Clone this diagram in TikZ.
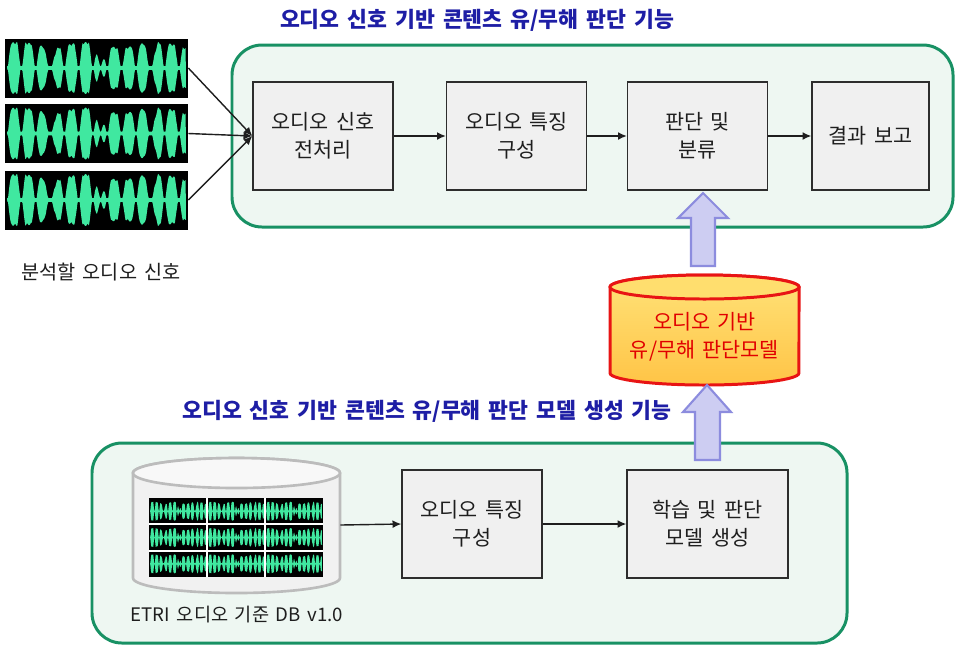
\documentclass[tikz,border=0pt]{standalone}
\usepackage{fontspec}
\setmainfont{Noto Sans CJK KR}[WordSpace=1.6]
\usetikzlibrary{arrows.meta,calc}

\definecolor{panelfill}{RGB}{238,247,242}
\definecolor{panelline}{RGB}{24,145,100}
\definecolor{boxfill}{RGB}{240,240,240}
\definecolor{boxline}{RGB}{45,45,45}
\definecolor{wavegreen}{RGB}{64,232,160}
\definecolor{titleblue}{RGB}{30,30,165}
\definecolor{fatfill}{RGB}{205,205,242}
\definecolor{fatline}{RGB}{140,140,222}
\definecolor{cylA}{RGB}{255,226,120}
\definecolor{cylB}{RGB}{255,196,70}
\definecolor{cyltop}{RGB}{255,222,110}
\definecolor{cylline}{RGB}{232,20,20}
\definecolor{modelred}{RGB}{225,0,0}
\definecolor{dbfill}{RGB}{241,241,241}
\definecolor{dbtop}{RGB}{248,248,248}
\definecolor{dbline}{RGB}{188,188,188}
\definecolor{textdark}{RGB}{30,30,30}

% green audio waveform: #1 left x, #2 middle y, #3 width, #4 height (pixels)
\newcommand\wavedraw[4]{%
  \fill[wavegreen]
    plot[domain=0:1,samples=320,variable=\t] ({#1+#3*\t},{#2-0.5*#4*wenv(\t)})
    -- plot[domain=1:0,samples=320,variable=\t] ({#1+#3*\t},{#2+0.5*#4*wenv(\t)})
    -- cycle;}

\begin{document}
\begin{tikzpicture}[
  x=0.02cm, y=-0.02cm,
  declare function={
    wenv(\t)=max(0.07, min(1,1.7*max(0,abs(sin(2250*\t))-0.18))
      *min(1,2.4*abs(sin(640*\t+25)))
      *(0.72+0.28*abs(sin(470*\t+60)))*(0.9+0.1*abs(sin(8000*\t))));
  },
  panel/.style={draw=panelline, line width=1.7pt, fill=panelfill, rounded corners=0.6cm},
  stepbox/.style={draw=boxline, line width=0.8pt, fill=boxfill, align=center,
    minimum width=2.8cm, minimum height=2.16cm, inner sep=0pt, text=textdark,
    font=\fontsize{11.8}{15.8}\selectfont},
  wavebox/.style={fill=black, minimum width=3.66cm, minimum height=1.18cm, inner sep=0pt},
  flow/.style={draw=textdark, line width=0.8pt, -{Latex[length=5pt,width=4.5pt]}},
  fat/.style={draw=fatline, fill=fatfill, line width=1.2pt, line join=miter},
  titletext/.style={text=titleblue, font=\fontsize{12.3}{14}\selectfont\bfseries},
  plaintext/.style={text=textdark, font=\fontsize{11.2}{13}\selectfont},
]
\useasboundingbox (0,0) rectangle (955,647);
\fill[white] (0,0) rectangle (955,647);

% ---------- upper part: judging function ----------
\node[titletext] (toptitle) at (477,20) {오디오 신호 기반 콘텐츠 유/무해 판단 기능};
\draw[panel] (232,45) rectangle (953,227);

\node[stepbox] (pre)   at (323,136)   {오디오 신호\\전처리};
\node[stepbox] (feat)  at (516.5,136) {오디오 특징\\구성};
\node[stepbox] (judge) at (697.5,136) {판단 및\\분류};
\node[stepbox, minimum width=2.34cm] (report) at (870.5,136) {결과 보고};

\draw[flow] (pre) -- (feat);
\draw[flow] (feat) -- (judge);
\draw[flow] (judge) -- (report);

% input signals
\node[wavebox] (w1) at (96.5,68) {};
\node[wavebox] (w2) at (96.5,133.5) {};
\node[wavebox] (w3) at (96.5,200) {};
\wavedraw{7}{68}{179}{52}
\wavedraw{7}{133.5}{179}{52}
\wavedraw{7}{200}{179}{52}
\draw[flow] (w1.east) -- (pre.west);
\draw[flow] (w2.east) -- (pre.west);
\draw[flow] (w3.east) -- (pre.west);
\node[plaintext] (inlabel) at (101,272) {분석할 오디오 신호};

% ---------- model cylinder ----------
\path[top color=cylA, bottom color=cylB, draw=cylline, line width=1.7pt]
  (610,287) -- (610,373)
  arc[start angle=180, end angle=360, x radius=1.89cm, y radius=0.24cm]
  -- (799,287)
  arc[start angle=0, end angle=180, x radius=1.89cm, y radius=0.24cm] -- cycle;
\draw[fill=cyltop, draw=cylline, line width=1.7pt]
  (704.5,287) ellipse[x radius=1.89cm, y radius=0.24cm];
\node[text=modelred, align=center, font=\fontsize{11.8}{15.8}\selectfont] (model)
  at (704.5,337) {오디오 기반\\유/무해 판단모델};

% block arrows
\draw[fat] (691,266) -- (691,218) -- (678,218) -- (703,193) -- (728,218)
  -- (715,218) -- (715,266) -- cycle;

% ---------- lower part: model generation ----------
\node[titletext] (bottitle) at (427,411) {오디오 신호 기반 콘텐츠 유/무해 판단 모델 생성 기능};
\draw[panel] (92,443) rectangle (847,643);

\draw[fat] (695,460) -- (695,412) -- (683,412) -- (707,385) -- (731,412)
  -- (720,412) -- (720,460) -- cycle;

% database cylinder
\path[fill=dbfill, draw=dbline, line width=1.5pt]
  (133,473) -- (133,578)
  arc[start angle=180, end angle=360, x radius=2.07cm, y radius=0.3cm]
  -- (340,473)
  arc[start angle=0, end angle=180, x radius=2.07cm, y radius=0.3cm] -- cycle;
\draw[fill=dbtop, draw=dbline, line width=1.5pt]
  (236.5,473) ellipse[x radius=2.07cm, y radius=0.3cm];
\node[minimum width=4.14cm, minimum height=2.7cm, inner sep=0pt] (db) at (236.5,525) {};

% grid of stored signals
\fill[black] (149,498) rectangle (323,577);
\foreach \i in {0,1,2}{
  \foreach \j in {0,1,2}{
    \wavedraw{149+58*\i+1}{498+26.33*\j+13.17}{56}{19}
  }
}
\draw[white, line width=1pt] (207,498) -- (207,577) (265,498) -- (265,577)
  (149,524.3) -- (323,524.3) (149,550.7) -- (323,550.7);
\node[text=textdark, font=\fontsize{10.6}{12}\selectfont] (dblabel) at (237,615) {ETRI 오디오 기준 DB v1.0};

\node[stepbox] (feat2) at (472,524) {오디오 특징\\구성};
\node[stepbox, minimum width=3.22cm] (train) at (707.5,524) {학습 및 판단\\모델 생성};

\draw[flow] (db.east) -- (feat2.west);
\draw[flow] (feat2) -- (train);
\end{tikzpicture}
\end{document}
